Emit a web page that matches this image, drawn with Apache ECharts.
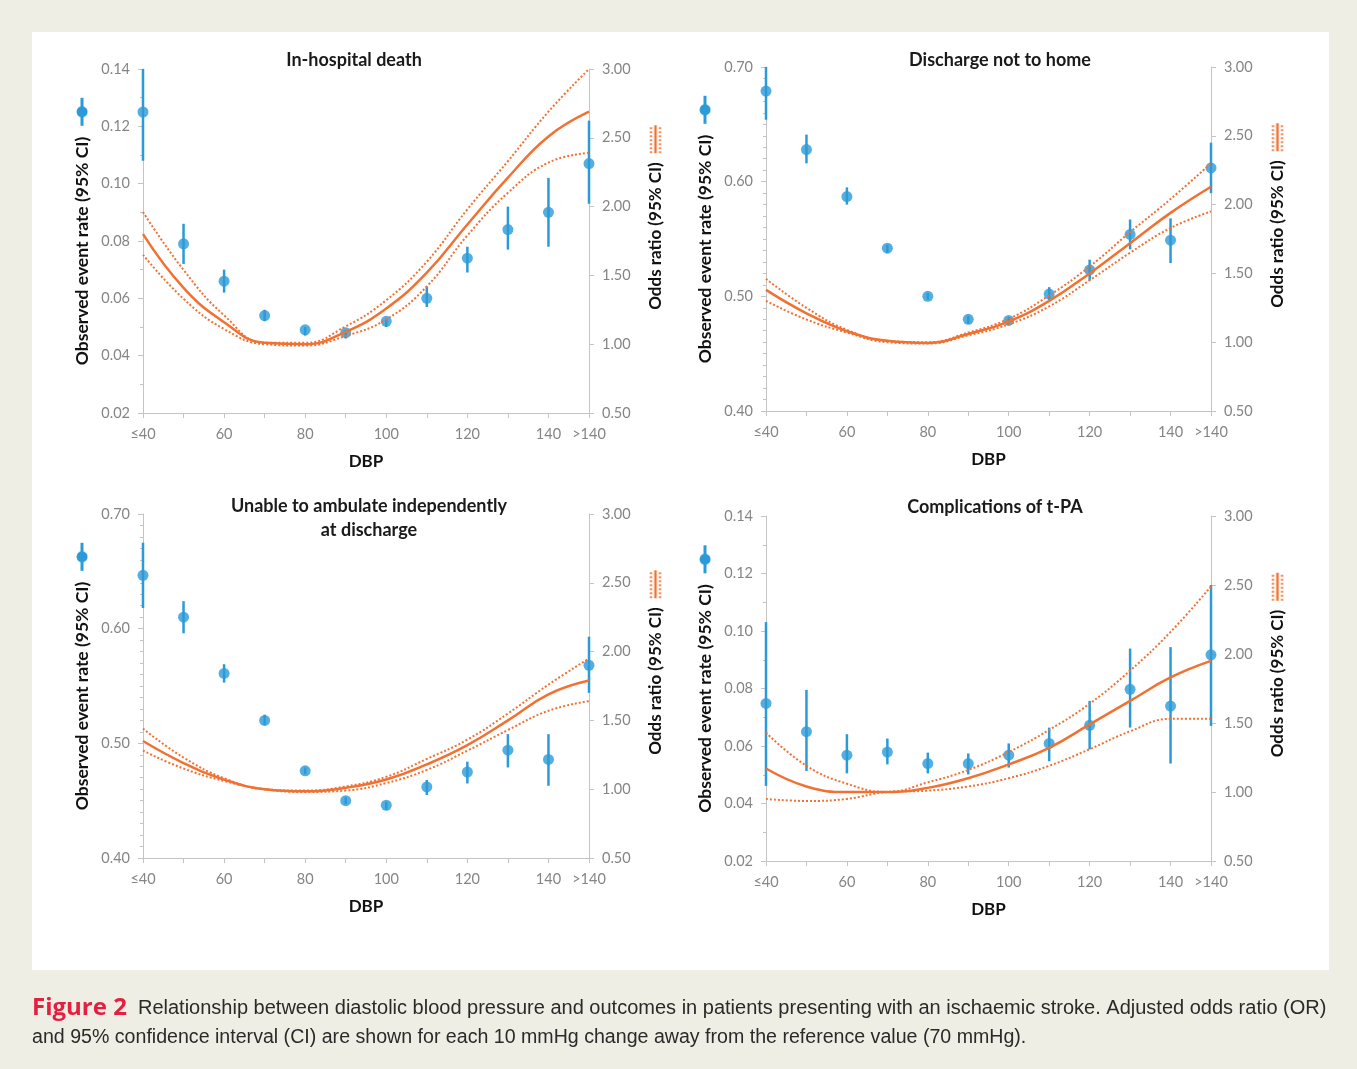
<!DOCTYPE html>
<html lang="en">
<head>
<meta charset="UTF-8">
<title>Figure 2 - DBP and stroke outcomes</title>
<script src="https://cdn.jsdelivr.net/npm/echarts@6/dist/echarts.min.js"></script>
<style>
  html, body { margin: 0; padding: 0; background: #efeee5; }
  #chart { width: 1357px; height: 1069px; }
</style>
</head>
<body>
<div id="chart"></div>
<script>
// DBP categories (40 = "<=40", 150 = ">140")
var dbp = [40, 50, 60, 70, 80, 90, 100, 110, 120, 130, 140, 150];
var xTickText = ['≤40', '', '60', '', '80', '', '100', '', '120', '', '140', '>140'];

// In-hospital death
var deathRate = [0.125, 0.079, 0.066, 0.054, 0.049, 0.048, 0.052, 0.060, 0.074, 0.084, 0.090, 0.107];
var deathLo   = [0.108, 0.072, 0.062, 0.052, 0.047, 0.046, 0.050, 0.057, 0.069, 0.077, 0.078, 0.093];
var deathHi   = [0.140, 0.086, 0.070, 0.056, 0.050, 0.049, 0.053, 0.064, 0.078, 0.092, 0.102, 0.122];
var deathOR   = [1.80, 1.41, 1.16, 1.01, 1.00, 1.09, 1.26, 1.52, 1.87, 2.21, 2.51, 2.69];
var deathORLo = [1.65, 1.33, 1.11, 1.00, 0.99, 1.06, 1.18, 1.42, 1.79, 2.10, 2.32, 2.39];
var deathORHi = [1.96, 1.54, 1.21, 1.01, 1.01, 1.13, 1.32, 1.60, 1.98, 2.33, 2.69, 3.00];

// Discharge not to home
var homeRate = [0.679, 0.628, 0.587, 0.542, 0.500, 0.480, 0.479, 0.502, 0.523, 0.554, 0.549, 0.612];
var homeLo   = [0.654, 0.616, 0.580, 0.538, 0.497, 0.476, 0.475, 0.497, 0.514, 0.541, 0.529, 0.590];
var homeHi   = [0.700, 0.641, 0.595, 0.545, 0.503, 0.483, 0.482, 0.508, 0.532, 0.567, 0.568, 0.634];
var homeOR   = [1.38, 1.21, 1.08, 1.01, 0.995, 1.06, 1.15, 1.30, 1.50, 1.72, 1.94, 2.13];
var homeORLo = [1.30, 1.165, 1.07, 1.00, 0.99, 1.05, 1.13, 1.26, 1.45, 1.65, 1.83, 1.95];
var homeORHi = [1.46, 1.25, 1.09, 1.01, 1.00, 1.07, 1.17, 1.34, 1.55, 1.80, 2.04, 2.30];

// Unable to ambulate independently at discharge
var ambRate = [0.6465, 0.610, 0.561, 0.520, 0.476, 0.450, 0.446, 0.462, 0.475, 0.494, 0.486, 0.568];
var ambLo   = [0.618, 0.596, 0.553, 0.516, 0.473, 0.447, 0.442, 0.455, 0.465, 0.479, 0.463, 0.544];
var ambHi   = [0.675, 0.624, 0.569, 0.525, 0.479, 0.453, 0.449, 0.468, 0.484, 0.508, 0.508, 0.593];
var ambOR   = [1.35, 1.19, 1.07, 1.00, 0.985, 1.01, 1.07, 1.18, 1.32, 1.50, 1.69, 1.79];
var ambORLo = [1.28, 1.15, 1.06, 1.00, 0.98, 0.99, 1.045, 1.14, 1.28, 1.43, 1.57, 1.64];
var ambORHi = [1.44, 1.23, 1.08, 1.00, 0.99, 1.02, 1.09, 1.22, 1.36, 1.55, 1.76, 1.95];

// Complications of t-PA
var tpaRate = [0.0748, 0.065, 0.0568, 0.0579, 0.0539, 0.0539, 0.0568, 0.0609, 0.0672, 0.0797, 0.0739, 0.0917];
var tpaLo   = [0.0461, 0.0513, 0.0505, 0.0536, 0.0505, 0.0501, 0.0525, 0.0547, 0.0588, 0.0664, 0.0539, 0.067];
var tpaHi   = [0.1031, 0.0795, 0.0641, 0.0626, 0.0577, 0.0574, 0.0609, 0.0664, 0.0757, 0.0939, 0.0944, 0.116];
var tpaOR   = [1.17, 1.04, 1.00, 1.00, 1.03, 1.10, 1.20, 1.32, 1.49, 1.66, 1.83, 1.95];
var tpaORLo = [0.95, 0.935, 0.95, 1.00, 1.01, 1.04, 1.10, 1.19, 1.31, 1.44, 1.53, 1.53];
var tpaORHi = [1.43, 1.19, 1.06, 1.00, 1.07, 1.16, 1.29, 1.45, 1.64, 1.88, 2.16, 2.49];

var BLUE = '#2a9ad8';
var ORANGE = '#f07131';
var AXIS = '#c4c4c4';
var LABEL = '#858585';
var FONT = 'Lato, "Open Sans", sans-serif';

// legend keys drawn into the rotated axis names
function glyph(kind) {
  var c = document.createElement('canvas');
  c.width = 30; c.height = 12;
  var g = c.getContext('2d');
  if (kind === 'rate') {
    g.strokeStyle = BLUE; g.lineWidth = 3;
    g.beginPath(); g.moveTo(1, 6); g.lineTo(29, 6); g.stroke();
    g.fillStyle = BLUE;
    g.beginPath(); g.arc(15, 6, 5.5, 0, Math.PI * 2); g.fill();
  } else {
    g.strokeStyle = ORANGE; g.lineWidth = 2.5;
    g.beginPath(); g.moveTo(1, 6); g.lineTo(29, 6); g.stroke();
    g.lineWidth = 2; g.setLineDash([2, 2]);
    [1.5, 10.5].forEach(function (y) {
      g.beginPath(); g.moveTo(1, y); g.lineTo(29, y); g.stroke();
    });
  }
  return c;
}
var rateKey = glyph('rate');
var orKey = glyph('or');

var panels = [
  { grid: { left: 143, top: 69, width: 446, height: 344 }, min: 0.02, max: 0.14, step: 0.02, minor: 2,
    title: 'In-hospital death', tx: 354, ty: 60,
    rate: deathRate, lo: deathLo, hi: deathHi, or: deathOR, orLo: deathORLo, orHi: deathORHi },
  { grid: { left: 766, top: 67, width: 445, height: 344 }, min: 0.4, max: 0.7, step: 0.1, minor: 10,
    title: 'Discharge not to home', tx: 1000, ty: 60,
    rate: homeRate, lo: homeLo, hi: homeHi, or: homeOR, orLo: homeORLo, orHi: homeORHi },
  { grid: { left: 143, top: 514, width: 446, height: 344 }, min: 0.4, max: 0.7, step: 0.1, minor: 10,
    title: 'Unable to ambulate independently\nat discharge', tx: 369, ty: 518,
    rate: ambRate, lo: ambLo, hi: ambHi, or: ambOR, orLo: ambORLo, orHi: ambORHi },
  { grid: { left: 766, top: 516, width: 445, height: 345 }, min: 0.02, max: 0.14, step: 0.02, minor: 2,
    title: 'Complications of t-PA', tx: 995, ty: 507,
    rate: tpaRate, lo: tpaLo, hi: tpaHi, or: tpaOR, orLo: tpaORLo, orHi: tpaORHi }
];

var grids = [], xAxes = [], yAxes = [], series = [], graphics = [];

graphics.push({ type: 'rect', z: -10, shape: { x: 32, y: 32, width: 1297, height: 938 }, style: { fill: '#ffffff' } });

panels.forEach(function (p, i) {
  grids.push(p.grid);
  xAxes.push({
    gridIndex: i, type: 'value', min: 40, max: 150, interval: 10,
    name: 'DBP', nameLocation: 'middle', nameGap: 40,
    nameTextStyle: { fontFamily: FONT, fontWeight: 'bold', fontSize: 17, color: '#111' },
    axisLine: { lineStyle: { color: AXIS } },
    axisTick: { show: true, length: 5, lineStyle: { color: AXIS } },
    axisLabel: {
      color: LABEL, fontFamily: FONT, fontSize: 14.5, margin: 14,
      formatter: function (v) { var k = dbp.indexOf(v); return k < 0 ? '' : xTickText[k]; }
    },
    splitLine: { show: false }
  });
  yAxes.push({
    gridIndex: i, type: 'value', position: 'left', min: p.min, max: p.max, interval: p.step,
    name: 'Observed event rate (95% CI){sp| }{k| }', nameLocation: 'middle', nameRotate: 90, nameGap: 52,
    nameTextStyle: {
      fontFamily: FONT, fontWeight: 'bold', fontSize: 17.5, color: '#111', padding: [0, 0, 0, 20],
      rich: { sp: { width: 10 }, k: { width: 30, height: 12, backgroundColor: { image: rateKey } } }
    },
    axisLine: { show: true, lineStyle: { color: AXIS } },
    axisTick: { show: true, length: 5, lineStyle: { color: AXIS } },
    minorTick: { show: true, splitNumber: p.minor, length: 3, lineStyle: { color: AXIS } },
    axisLabel: { color: LABEL, fontFamily: FONT, fontSize: 14.5, margin: 13, formatter: function (v) { return v.toFixed(2); } },
    splitLine: { show: false }
  });
  yAxes.push({
    gridIndex: i, type: 'value', position: 'right', min: 0.5, max: 3, interval: 0.5,
    name: 'Odds ratio (95% CI){sp| }{k| }', nameLocation: 'middle', nameRotate: 90, nameGap: 58,
    nameTextStyle: {
      fontFamily: FONT, fontWeight: 'bold', fontSize: 17, color: '#111', padding: [0, 0, 0, 48],
      rich: { sp: { width: 8 }, k: { width: 30, height: 12, backgroundColor: { image: orKey } } }
    },
    axisLine: { show: true, lineStyle: { color: AXIS } },
    axisTick: { show: true, length: 5, lineStyle: { color: AXIS } },
    axisLabel: { color: LABEL, fontFamily: FONT, fontSize: 14.5, margin: 13, formatter: function (v) { return v.toFixed(2); } },
    splitLine: { show: false }
  });

  // error bars
  series.push({
    type: 'custom', xAxisIndex: i, yAxisIndex: 2 * i, z: 2,
    data: dbp.map(function (x, k) { return [x, p.lo[k], p.hi[k]]; }),
    encode: { x: 0, y: [1, 2] },
    renderItem: function (params, api) {
      var a = api.coord([api.value(0), api.value(1)]);
      var b = api.coord([api.value(0), api.value(2)]);
      return { type: 'line', shape: { x1: a[0], y1: a[1], x2: b[0], y2: b[1] }, style: { stroke: BLUE, lineWidth: 2.5 } };
    }
  });
  series.push({
    type: 'scatter', xAxisIndex: i, yAxisIndex: 2 * i, z: 3,
    symbolSize: 11, itemStyle: { color: BLUE },
    data: dbp.map(function (x, k) { return [x, p.rate[k]]; })
  });
  [[p.orHi, 'dotted'], [p.orLo, 'dotted'], [p.or, 'solid']].forEach(function (s) {
    series.push({
      type: 'line', xAxisIndex: i, yAxisIndex: 2 * i + 1, z: 4,
      smooth: 0.45, symbol: 'none', silent: true,
      lineStyle: s[1] === 'solid' ? { color: ORANGE, width: 2.5 } : { color: ORANGE, width: 2, type: [2, 2] },
      data: dbp.map(function (x, k) { return [x, s[0][k]]; })
    });
  });

  graphics.push({
    type: 'text', x: p.tx, y: p.ty,
    style: { text: p.title, align: 'center', verticalAlign: 'middle', font: 'bold 18px ' + FONT, fill: '#1a1a1a', lineHeight: 24 }
  });
});

// caption
graphics.push({
  type: 'text', x: 32, y: 1008,
  style: {
    text: '{f|Figure 2}  Relationship between diastolic blood pressure and outcomes in patients presenting with an ischaemic stroke. Adjusted odds ratio (OR)',
    verticalAlign: 'middle', font: '20px "Liberation Sans", sans-serif', fill: '#2a2a2a',
    rich: { f: { fill: '#e3203f', fontWeight: 'bold', fontSize: 24, fontFamily: '"Open Sans", sans-serif' } }
  }
});
graphics.push({
  type: 'text', x: 32, y: 1038,
  style: {
    text: 'and 95% confidence interval (CI) are shown for each 10 mmHg change away from the reference value (70 mmHg).',
    verticalAlign: 'middle', font: '19.6px "Liberation Sans", sans-serif', fill: '#2a2a2a'
  }
});

var myChart = echarts.init(document.getElementById('chart'));
myChart.setOption({
  backgroundColor: '#efeee5',
  animation: false,
  grid: grids,
  xAxis: xAxes,
  yAxis: yAxes,
  series: series,
  graphic: graphics
});
</script>
</body>
</html>
